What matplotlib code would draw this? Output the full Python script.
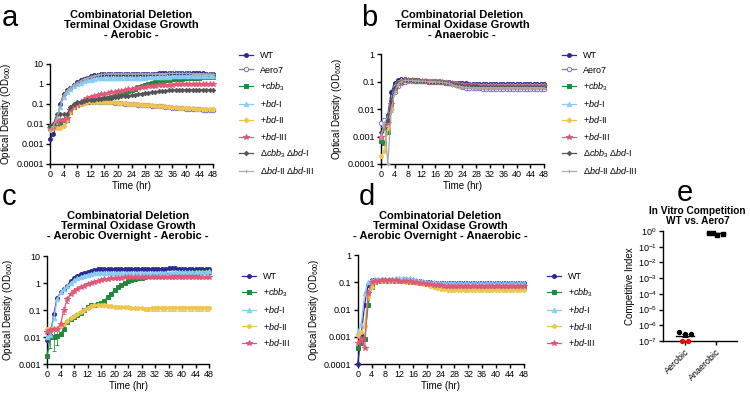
import numpy as np
import matplotlib
matplotlib.use('Agg')
import matplotlib.pyplot as plt

plt.rcParams['font.family'] = ['Liberation Sans', 'DejaVu Sans']
plt.rcParams['mathtext.fontset'] = 'custom'
plt.rcParams['mathtext.rm'] = 'Liberation Sans'
plt.rcParams['mathtext.it'] = 'Liberation Sans:italic'
plt.rcParams['mathtext.bf'] = 'Liberation Sans:bold'

# ---------------- data ----------------
hours = list(range(49))

# panel a - aerobic
a_wt = [0.0017, 0.003, 0.012, 0.1, 0.3, 0.5, 0.65, 0.9, 1.2, 1.5,
        1.8, 2.1, 2.4, 2.7, 2.9, 3.1, 3.2, 3.3, 3.3, 3.3,
        3.3, 3.3, 3.3, 3.3, 3.3, 3.3, 3.3, 3.3, 3.3, 3.3,
        3.3, 3.3, 3.4, 3.4, 3.4, 3.5, 3.5, 3.6, 3.6, 3.6,
        3.5, 3.5, 3.5, 3.4, 3.4, 3.4, 3.3, 3.3, 3.3]
a_aero7 = [0.006, 0.008, 0.009, 0.011, 0.013, 0.016, 0.05, 0.08, 0.09, 0.1,
           0.11, 0.12, 0.125, 0.13, 0.13, 0.13, 0.125, 0.12, 0.12, 0.115,
           0.11, 0.11, 0.105, 0.1, 0.1, 0.095, 0.09, 0.09, 0.085, 0.085,
           0.08, 0.08, 0.075, 0.075, 0.07, 0.07, 0.065, 0.063, 0.06, 0.06,
           0.058, 0.056, 0.055, 0.054, 0.053, 0.052, 0.052, 0.051, 0.051]
a_cbb3 = [0.007, 0.007, 0.007, 0.012, 0.015, 0.015, 0.04, 0.07, 0.09, 0.11,
          0.12, 0.13, 0.14, 0.15, 0.16, 0.17, 0.18, 0.2, 0.22, 0.25,
          0.28, 0.32, 0.37, 0.43, 0.5, 0.58, 0.67, 0.77, 0.88, 1.0,
          1.1, 1.2, 1.3, 1.4, 1.5, 1.6, 1.7, 1.75, 1.8, 1.85,
          1.9, 1.95, 2.0, 2.05, 2.1, 2.15, 2.2, 2.25, 2.3]
a_bd1 = [0.008, 0.009, 0.02, 0.07, 0.22, 0.4, 0.55, 0.75, 0.95, 1.15,
         1.35, 1.5, 1.65, 1.8, 1.9, 2.0, 2.05, 2.1, 2.1, 2.1,
         2.1, 2.05, 2.05, 2.05, 2.05, 2.05, 2.1, 2.1, 2.1, 2.15,
         2.2, 2.2, 2.25, 2.3, 2.3, 2.35, 2.4, 2.4, 2.45, 2.45,
         2.5, 2.5, 2.55, 2.55, 2.6, 2.6, 2.6, 2.65, 2.65]
a_bd2 = [0.005, 0.006, 0.006, 0.006, 0.008, 0.015, 0.04, 0.07, 0.09, 0.1,
         0.11, 0.12, 0.125, 0.13, 0.13, 0.13, 0.13, 0.125, 0.12, 0.12,
         0.115, 0.11, 0.11, 0.105, 0.1, 0.1, 0.095, 0.09, 0.09, 0.085,
         0.085, 0.08, 0.08, 0.075, 0.075, 0.07, 0.07, 0.068, 0.066, 0.064,
         0.062, 0.06, 0.06, 0.058, 0.058, 0.057, 0.056, 0.056, 0.055]
a_bd3 = [0.006, 0.007, 0.012, 0.015, 0.015, 0.02, 0.05, 0.08, 0.1, 0.13,
         0.16, 0.19, 0.22, 0.25, 0.27, 0.3, 0.32, 0.35, 0.38, 0.41,
         0.44, 0.47, 0.5, 0.53, 0.56, 0.6, 0.64, 0.68, 0.72, 0.76,
         0.8, 0.83, 0.86, 0.88, 0.9, 0.92, 0.94, 0.95, 0.96, 0.97,
         0.98, 0.99, 1.0, 1.0, 1.0, 1.0, 1.0, 1.0, 1.0]
a_dcbb3_dbd1 = [0.008, 0.01, 0.03, 0.03, 0.03, 0.03, 0.07, 0.1, 0.12, 0.13,
                0.14, 0.15, 0.15, 0.16, 0.17, 0.18, 0.19, 0.2, 0.21, 0.22,
                0.23, 0.24, 0.25, 0.26, 0.27, 0.29, 0.31, 0.33, 0.35, 0.37,
                0.39, 0.41, 0.43, 0.45, 0.47, 0.48, 0.5, 0.5, 0.51, 0.51,
                0.52, 0.52, 0.52, 0.52, 0.52, 0.52, 0.52, 0.52, 0.52]
a_dbd2_dbd3 = [0.005, 0.008, 0.02, 0.08, 0.28, 0.48, 0.65, 0.9, 1.15, 1.45,
               1.75, 2.0, 2.3, 2.6, 2.8, 3.0, 3.1, 3.2, 3.2, 3.2,
               3.2, 3.2, 3.2, 3.2, 3.2, 3.2, 3.2, 3.2, 3.2, 3.2,
               3.2, 3.2, 3.3, 3.3, 3.3, 3.4, 3.4, 3.4, 3.4, 3.4,
               3.4, 3.4, 3.3, 3.3, 3.3, 3.3, 3.2, 3.2, 3.2]

# panel b - anaerobic
b_wt = [0.0009, 0.003, 0.006, 0.04, 0.09, 0.11, 0.12, 0.12, 0.115, 0.11,
        0.11, 0.11, 0.108, 0.106, 0.105, 0.104, 0.103, 0.1, 0.1, 0.098,
        0.095, 0.092, 0.09, 0.088, 0.086, 0.085, 0.084, 0.083, 0.082, 0.082,
        0.082, 0.082, 0.081, 0.081, 0.081, 0.081, 0.081, 0.081, 0.081, 0.081,
        0.08, 0.08, 0.08, 0.08, 0.08, 0.08, 0.08, 0.08, 0.08]
b_aero7 = [0.003, 0.004, 0.004, 0.01, 0.04, 0.07, 0.09, 0.1, 0.105, 0.105,
           0.105, 0.105, 0.105, 0.104, 0.104, 0.103, 0.102, 0.101, 0.1, 0.1,
           0.09, 0.08, 0.072, 0.066, 0.062, 0.06, 0.058, 0.057, 0.056, 0.056,
           0.055, 0.055, 0.055, 0.055, 0.055, 0.055, 0.055, 0.055, 0.055, 0.055,
           0.055, 0.055, 0.055, 0.055, 0.055, 0.055, 0.055, 0.055, 0.055]
b_cbb3 = [0.0007, 0.0006, 0.0014, 0.015, 0.05, 0.085, 0.1, 0.11, 0.11, 0.11,
          0.108, 0.106, 0.104, 0.102, 0.1, 0.1, 0.098, 0.096, 0.094, 0.092,
          0.09, 0.086, 0.082, 0.078, 0.076, 0.074, 0.073, 0.072, 0.072, 0.071,
          0.071, 0.071, 0.07, 0.07, 0.07, 0.07, 0.07, 0.07, 0.07, 0.07,
          0.07, 0.07, 0.07, 0.07, 0.07, 0.07, 0.07, 0.07, 0.07]
b_bd1 = [0.001, 0.003, 0.005, 0.02, 0.07, 0.1, 0.11, 0.11, 0.11, 0.11,
         0.108, 0.106, 0.105, 0.104, 0.103, 0.102, 0.1, 0.098, 0.096, 0.094,
         0.092, 0.088, 0.085, 0.082, 0.08, 0.078, 0.077, 0.076, 0.076, 0.075,
         0.075, 0.075, 0.075, 0.075, 0.075, 0.075, 0.075, 0.075, 0.075, 0.075,
         0.075, 0.075, 0.075, 0.075, 0.075, 0.075, 0.075, 0.075, 0.075]
b_bd2 = [0.0002, 0.0003, 0.002, 0.01, 0.05, 0.08, 0.1, 0.11, 0.11, 0.11,
         0.108, 0.106, 0.104, 0.102, 0.1, 0.099, 0.098, 0.096, 0.094, 0.09,
         0.086, 0.08, 0.075, 0.071, 0.069, 0.067, 0.066, 0.066, 0.065, 0.065,
         0.065, 0.065, 0.065, 0.065, 0.065, 0.065, 0.065, 0.065, 0.065, 0.065,
         0.065, 0.065, 0.065, 0.065, 0.065, 0.065, 0.065, 0.065, 0.065]
b_bd3 = [0.001, 0.002, 0.003, 0.015, 0.06, 0.09, 0.1, 0.11, 0.11, 0.11,
         0.108, 0.106, 0.104, 0.102, 0.1, 0.1, 0.098, 0.096, 0.094, 0.092,
         0.09, 0.086, 0.082, 0.078, 0.075, 0.073, 0.072, 0.071, 0.07, 0.07,
         0.07, 0.07, 0.07, 0.07, 0.07, 0.07, 0.07, 0.07, 0.07, 0.07,
         0.07, 0.07, 0.07, 0.07, 0.07, 0.07, 0.07, 0.07, 0.07]
b_dcbb3_dbd1 = [0.0015, 0.002, 0.004, 0.02, 0.06, 0.09, 0.1, 0.11, 0.11, 0.11,
                0.108, 0.106, 0.104, 0.102, 0.1, 0.1, 0.098, 0.096, 0.094, 0.092,
                0.088, 0.082, 0.076, 0.072, 0.07, 0.068, 0.067, 0.066, 0.066, 0.065,
                0.065, 0.065, 0.065, 0.065, 0.065, 0.065, 0.065, 0.065, 0.065, 0.065,
                0.065, 0.065, 0.065, 0.065, 0.065, 0.065, 0.065, 0.065, 0.065]
b_dbd2_dbd3 = [0.001, 0.003, 0.0001, 0.008, 0.04, 0.08, 0.1, 0.11, 0.11, 0.11,
               0.108, 0.106, 0.104, 0.102, 0.1, 0.1, 0.098, 0.096, 0.094, 0.09,
               0.085, 0.078, 0.07, 0.066, 0.064, 0.062, 0.061, 0.06, 0.06, 0.06,
               0.06, 0.06, 0.06, 0.06, 0.06, 0.06, 0.06, 0.06, 0.06, 0.06,
               0.06, 0.06, 0.06, 0.06, 0.06, 0.06, 0.06, 0.06, 0.06]

# panel c - aerobic overnight, aerobic
c_wt = [0.008, 0.012, 0.07, 0.28, 0.45, 0.6, 0.8, 1.2, 1.5, 1.8,
        2.1, 2.4, 2.6, 2.8, 3.0, 3.2, 3.4, 3.4, 3.4, 3.3,
        3.3, 3.3, 3.3, 3.3, 3.3, 3.3, 3.3, 3.3, 3.3, 3.3,
        3.3, 3.3, 3.3, 3.4, 3.4, 3.4, 3.5, 3.5, 3.5, 3.4,
        3.4, 3.4, 3.4, 3.3, 3.3, 3.3, 3.3, 3.3, 3.2]
c_cbb3 = [0.002, 0.01, 0.01, 0.011, 0.013, 0.02, 0.035, 0.045, 0.055, 0.065,
          0.08, 0.1, 0.13, 0.15, 0.16, 0.17, 0.19, 0.22, 0.3, 0.4,
          0.55, 0.7, 0.85, 1.0, 1.15, 1.3, 1.4, 1.5, 1.6, 1.7,
          1.75, 1.8, 1.85, 1.9, 1.95, 2.0, 2.05, 2.1, 2.15, 2.2,
          2.25, 2.3, 2.35, 2.4, 2.45, 2.5, 2.55, 2.6, 2.65]
c_bd1 = [0.01, 0.012, 0.05, 0.25, 0.45, 0.6, 0.75, 1.0, 1.3, 1.5,
         1.7, 1.9, 2.05, 2.2, 2.3, 2.4, 2.4, 2.4, 2.4, 2.4,
         2.35, 2.35, 2.35, 2.35, 2.35, 2.35, 2.35, 2.35, 2.35, 2.35,
         2.35, 2.35, 2.4, 2.4, 2.4, 2.45, 2.45, 2.5, 2.5, 2.5,
         2.5, 2.55, 2.55, 2.6, 2.6, 2.6, 2.65, 2.65, 2.7]
c_bd2 = [0.02, 0.02, 0.02, 0.02, 0.025, 0.03, 0.04, 0.05, 0.06, 0.07,
         0.085, 0.1, 0.12, 0.14, 0.155, 0.16, 0.155, 0.15, 0.145, 0.14,
         0.135, 0.13, 0.13, 0.125, 0.125, 0.12, 0.12, 0.115, 0.115, 0.11,
         0.11, 0.115, 0.12, 0.12, 0.12, 0.12, 0.12, 0.12, 0.12, 0.12,
         0.115, 0.115, 0.12, 0.12, 0.12, 0.12, 0.12, 0.12, 0.12]
c_bd3 = [0.015, 0.018, 0.02, 0.02, 0.03, 0.1, 0.25, 0.4, 0.5, 0.6,
         0.7, 0.8, 0.9, 1.0, 1.1, 1.2, 1.3, 1.4, 1.45, 1.5,
         1.55, 1.6, 1.6, 1.65, 1.65, 1.7, 1.7, 1.7, 1.7, 1.7,
         1.7, 1.7, 1.7, 1.7, 1.7, 1.7, 1.7, 1.7, 1.7, 1.7,
         1.7, 1.7, 1.7, 1.65, 1.65, 1.65, 1.65, 1.65, 1.65]
# visible SEM bars in panel c (hour: sem)
c_cbb3_sem = {0: 0.0015, 1: 0.006, 2: 0.007, 3: 0.006}
c_bd2_sem = {30: 0.02, 31: 0.02, 32: 0.025, 33: 0.025, 34: 0.025, 35: 0.025, 36: 0.025,
             37: 0.025, 38: 0.025, 39: 0.025, 40: 0.025, 41: 0.025, 42: 0.025,
             43: 0.025, 44: 0.025, 45: 0.025, 46: 0.025, 47: 0.025, 48: 0.025}
c_bd3_sem = {5: 0.03, 6: 0.06}

# panel d - aerobic overnight, anaerobic
d_wt = [0.0001, 0.0012, 0.015, 0.08, 0.12, 0.125, 0.125, 0.125, 0.125, 0.125,
        0.125, 0.125, 0.125, 0.125, 0.12, 0.12, 0.12, 0.115, 0.11, 0.105,
        0.1, 0.1, 0.098, 0.096, 0.095, 0.095, 0.094, 0.094, 0.094, 0.093,
        0.093, 0.093, 0.093, 0.093, 0.093, 0.093, 0.093, 0.093, 0.093, 0.093,
        0.092, 0.092, 0.092, 0.092, 0.092, 0.092, 0.092, 0.092, 0.092]
d_cbb3 = [0.0004, 0.0006, 0.0008, 0.015, 0.07, 0.1, 0.11, 0.115, 0.115, 0.115,
          0.115, 0.115, 0.112, 0.11, 0.108, 0.106, 0.105, 0.1, 0.098, 0.095,
          0.09, 0.085, 0.08, 0.075, 0.072, 0.07, 0.068, 0.067, 0.066, 0.066,
          0.065, 0.065, 0.065, 0.065, 0.065, 0.065, 0.065, 0.065, 0.065, 0.065,
          0.065, 0.065, 0.065, 0.065, 0.065, 0.065, 0.065, 0.065, 0.065]
d_bd1 = [0.0015, 0.003, 0.04, 0.1, 0.12, 0.13, 0.13, 0.13, 0.135, 0.135,
         0.135, 0.14, 0.14, 0.145, 0.145, 0.14, 0.13, 0.12, 0.115, 0.11,
         0.105, 0.1, 0.1, 0.098, 0.096, 0.095, 0.094, 0.094, 0.093, 0.093,
         0.092, 0.092, 0.092, 0.092, 0.092, 0.092, 0.092, 0.092, 0.092, 0.092,
         0.092, 0.092, 0.092, 0.092, 0.092, 0.092, 0.092, 0.092, 0.092]
d_bd2 = [0.0012, 0.0015, 0.0025, 0.03, 0.07, 0.1, 0.11, 0.115, 0.115, 0.115,
         0.115, 0.112, 0.11, 0.108, 0.106, 0.104, 0.1, 0.098, 0.095, 0.09,
         0.085, 0.075, 0.065, 0.06, 0.057, 0.055, 0.054, 0.053, 0.052, 0.052,
         0.052, 0.052, 0.052, 0.052, 0.052, 0.052, 0.052, 0.052, 0.052, 0.052,
         0.052, 0.052, 0.052, 0.052, 0.052, 0.052, 0.052, 0.052, 0.052]
d_bd3 = [0.0006, 0.0008, 0.0004, 0.04, 0.1, 0.11, 0.115, 0.12, 0.12, 0.12,
         0.12, 0.118, 0.115, 0.112, 0.11, 0.108, 0.105, 0.1, 0.098, 0.095,
         0.09, 0.086, 0.082, 0.079, 0.077, 0.076, 0.075, 0.075, 0.075, 0.075,
         0.075, 0.075, 0.075, 0.075, 0.075, 0.075, 0.075, 0.075, 0.075, 0.075,
         0.075, 0.075, 0.075, 0.075, 0.075, 0.075, 0.075, 0.075, 0.075]

# panel e - competitive index
e_categories = ['Aerobic', 'Anaerobic']
e_aerobic = [3.6e-7, 2.6e-7, 2.8e-7]
e_aerobic_lod = [1e-7, 1e-7]   # below detection (red)
e_anaerobic = [0.8, 0.75, 0.6, 0.7]

# ---------------- styles ----------------
labels = ['WT', 'Aero7', '+$\\mathit{cbb}_3$', '+$\\mathit{bd}$-I', '+$\\mathit{bd}$-II',
          '+$\\mathit{bd}$-III', 'Δ$\\mathit{cbb}_3$ Δ$\\mathit{bd}$-I',
          'Δ$\\mathit{bd}$-II Δ$\\mathit{bd}$-III']
styles = {
    'WT': dict(color='#2b2a8f', marker='o', ms=2.8, mfc='#2b2a8f'),
    'Aero7': dict(color='#7b6fcf', marker='o', ms=3.2, mfc='white'),
    'cbb3': dict(color='#1f8a3b', marker='s', ms=2.8, mfc='#1f8a3b'),
    'bd1': dict(color='#86cdf5', marker='^', ms=3.2, mfc='#86cdf5'),
    'bd2': dict(color='#eec54e', marker='P', ms=3.0, mfc='#eec54e'),
    'bd3': dict(color='#e0587c', marker='*', ms=3.8, mfc='#e0587c'),
    'dc1': dict(color='#555555', marker='D', ms=2.2, mfc='#555555'),
    'd23': dict(color='#aaaaaa', marker='+', ms=3.5, mfc='#aaaaaa'),
}
keys8 = ['WT', 'Aero7', 'cbb3', 'bd1', 'bd2', 'bd3', 'dc1', 'd23']
keys5 = ['WT', 'cbb3', 'bd1', 'bd2', 'bd3']

TICK_FS = 6.5
LAB_FS = 7

fig = plt.figure(figsize=(7.5, 3.94), dpi=100)

ax_a = fig.add_axes([0.0667, 0.5838, 0.2173, 0.2538])
ax_b = fig.add_axes([0.508, 0.5838, 0.2173, 0.279])
ax_c = fig.add_axes([0.0627, 0.0761, 0.216, 0.274])
ax_d = fig.add_axes([0.477, 0.0761, 0.221, 0.2766])
ax_e = fig.add_axes([0.884, 0.1345, 0.0987, 0.279])


def style_axis(ax):
    for s in ['top', 'right']:
        ax.spines[s].set_visible(False)
    for s in ['left', 'bottom']:
        ax.spines[s].set_linewidth(1.0)
    ax.tick_params(axis='both', which='major', labelsize=TICK_FS, length=3, width=1, pad=1.5)
    ax.tick_params(axis='both', which='minor', length=0)


def growth_panel(ax, series, keys, ylim, yticks, ylabels, sems=None):
    for y, k in zip(series, keys):
        st = styles[k]
        ax.plot(hours, y, color=st['color'], marker=st['marker'], ms=st['ms'],
                mfc=st['mfc'], mec=st['color'], mew=0.7, lw=0.9, clip_on=False,
                zorder=3)
        if sems and k in sems:
            err = sems[k]
            t = list(err.keys())
            v = [y[i] for i in t]
            e = [err[i] for i in t]
            lo = [min(ei, vi * 0.7) for vi, ei in zip(v, e)]
            ax.errorbar(t, v, yerr=[lo, e], fmt='none', ecolor=st['color'],
                        elinewidth=0.7, capsize=1.5, capthick=0.7, zorder=2, alpha=0.8)
    ax.set_yscale('log')
    ax.set_ylim(*ylim)
    ax.set_yticks(yticks)
    ax.set_yticklabels(ylabels)
    ax.yaxis.set_minor_locator(matplotlib.ticker.NullLocator())
    ax.set_xlim(0, 48)
    ax.set_xticks(range(0, 49, 4))
    ax.set_xlabel('Time (hr)', fontsize=LAB_FS, labelpad=1.5)
    ax.set_ylabel('Optical Density (OD$_{600}$)', fontsize=LAB_FS, labelpad=2)
    style_axis(ax)


growth_panel(ax_a, [a_wt, a_aero7, a_cbb3, a_bd1, a_bd2, a_bd3, a_dcbb3_dbd1, a_dbd2_dbd3],
             keys8, (0.0001, 10), [0.0001, 0.001, 0.01, 0.1, 1, 10],
             ['0.0001', '0.001', '0.01', '0.1', '1', '10'])
growth_panel(ax_b, [b_wt, b_aero7, b_cbb3, b_bd1, b_bd2, b_bd3, b_dcbb3_dbd1, b_dbd2_dbd3],
             keys8, (0.0001, 1), [0.0001, 0.001, 0.01, 0.1, 1],
             ['0.0001', '0.001', '0.01', '0.1', '1'])
growth_panel(ax_c, [c_wt, c_cbb3, c_bd1, c_bd2, c_bd3], keys5, (0.001, 10),
             [0.001, 0.01, 0.1, 1, 10], ['0.001', '0.01', '0.1', '1', '10'],
             sems={'cbb3': c_cbb3_sem, 'bd2': c_bd2_sem, 'bd3': c_bd3_sem})
growth_panel(ax_d, [d_wt, d_cbb3, d_bd1, d_bd2, d_bd3], keys5, (0.0001, 1),
             [0.0001, 0.001, 0.01, 0.1, 1], ['0.0001', '0.001', '0.01', '0.1', '1'])


def add_legend(keys, lbls, x, y):
    handles = [matplotlib.lines.Line2D([], [], color=styles[k]['color'], marker=styles[k]['marker'],
                                       ms=styles[k]['ms'], mfc=styles[k]['mfc'], mec=styles[k]['color'],
                                       mew=0.7, lw=0.9) for k in keys]
    fig.legend(handles, lbls, loc='upper left', bbox_to_anchor=(x, y), bbox_transform=fig.transFigure,
               frameon=False, fontsize=6.5, handlelength=1.6, handletextpad=0.8,
               labelspacing=0.6, borderpad=0, borderaxespad=0)


lbl5 = [labels[0], labels[2], labels[3], labels[4], labels[5]]
add_legend(keys8, labels, 0.318, 0.87)
add_legend(keys8, labels, 0.749, 0.87)
add_legend(keys5, lbl5, 0.322, 0.31)
add_legend(keys5, lbl5, 0.729, 0.31)

# panel e
x_pos = np.arange(len(e_categories))
groups = [e_aerobic + e_aerobic_lod, e_anaerobic]
ax_e.scatter(x_pos[0] + np.array([-0.2, 0.0, 0.2]), e_aerobic, s=8, color='black', zorder=3, clip_on=False)
ax_e.scatter(x_pos[0] + np.array([-0.1, 0.1]), e_aerobic_lod, s=8, color='red', zorder=3, clip_on=False)
ax_e.scatter(x_pos[1] + np.array([-0.24, -0.09, 0.04, 0.24]), e_anaerobic, s=8, marker='s',
             color='black', zorder=3, clip_on=False)
for xp, vals in zip(x_pos, groups):
    m = np.mean(vals)
    sem = np.std(vals, ddof=1) / np.sqrt(len(vals))
    ax_e.plot([xp - 0.3, xp + 0.3], [m, m], color='black', lw=1, zorder=2)
    ax_e.errorbar(xp, m, yerr=sem, fmt='none', ecolor='black', elinewidth=0.8,
                  capsize=2, capthick=0.8, zorder=2)
ax_e.set_yscale('log')
ax_e.set_ylim(1e-7, 1)
ax_e.set_yticks([10.0 ** p for p in range(-7, 1)])
ax_e.set_yticklabels(['10$^{%d}$' % p for p in range(-7, 1)])
ax_e.yaxis.set_minor_locator(matplotlib.ticker.NullLocator())
ax_e.set_xlim(-0.71, 1.68)
ax_e.set_xticks(x_pos)
ax_e.set_xticklabels(e_categories, rotation=45, ha='right', rotation_mode='anchor')
ax_e.set_ylabel('Competitive Index', fontsize=LAB_FS, labelpad=2)
style_axis(ax_e)

# titles
tkw = dict(ha='center', va='center', fontsize=8, fontweight='bold', linespacing=1.0)
fig.text(0.175, 0.937, 'Combinatorial Deletion\nTerminal Oxidase Growth\n- Aerobic -', **tkw)
fig.text(0.616, 0.937, 'Combinatorial Deletion\nTerminal Oxidase Growth\n- Anaerobic -', **tkw)
fig.text(0.171, 0.426, 'Combinatorial Deletion\nTerminal Oxidase Growth\n- Aerobic Overnight - Aerobic -', **tkw)
fig.text(0.587, 0.426, 'Combinatorial Deletion\nTerminal Oxidase Growth\n- Aerobic Overnight - Anaerobic -', **tkw)
fig.text(0.93, 0.452, 'In Vitro Competition\nWT vs. Aero7', ha='center', va='center',
         fontsize=7.3, fontweight='bold', linespacing=1.0)

# panel letters
lkw = dict(fontsize=21, ha='left', va='top')
fig.text(0.002, 0.99, 'a', **lkw)
fig.text(0.482, 0.99, 'b', **lkw)
fig.text(0.002, 0.535, 'c', **lkw)
fig.text(0.478, 0.535, 'd', **lkw)
fig.text(0.902, 0.545, 'e', **lkw)

fig.savefig('out.png', dpi=100)
